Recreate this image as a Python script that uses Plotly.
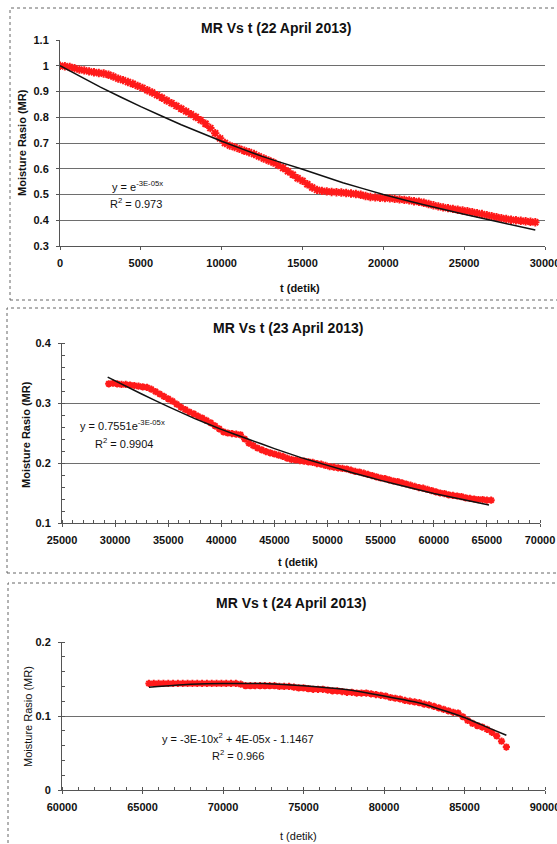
import plotly.graph_objects as go

W, H = 557, 844
FONT = "Liberation Sans, Arial, sans-serif"

# ---- 22 April 2013 : measured moisture ratio every 300 s, and trend line ----
T1_START, T1_STEP = 0, 300
MR1 = [1.000, 0.998, 0.995, 0.990, 0.985, 0.982, 0.978, 0.975, 0.972, 0.970,
       0.965, 0.958, 0.950, 0.944, 0.937, 0.930, 0.922, 0.914, 0.905, 0.896,
       0.886, 0.876, 0.865, 0.855, 0.844, 0.833, 0.823, 0.812, 0.801, 0.789,
       0.775, 0.758, 0.738, 0.718, 0.700, 0.690, 0.684, 0.677, 0.670, 0.664,
       0.657, 0.648, 0.640, 0.632, 0.624, 0.614, 0.603, 0.590, 0.577, 0.563,
       0.553, 0.540, 0.527, 0.518, 0.514, 0.512, 0.510, 0.509, 0.508, 0.506,
       0.504, 0.502, 0.499, 0.494, 0.490, 0.489, 0.487, 0.486, 0.485, 0.483,
       0.481, 0.479, 0.477, 0.474, 0.472, 0.468, 0.463, 0.458, 0.454, 0.450,
       0.447, 0.444, 0.441, 0.438, 0.435, 0.431, 0.427, 0.424, 0.420, 0.416,
       0.412, 0.408, 0.405, 0.402, 0.400, 0.398, 0.396, 0.394, 0.392]
FIT1_T = [0, 2500, 5000, 7500, 10000, 12500, 15000, 17500, 20000, 22500, 25000, 27500, 29400]
FIT1_MR = [1.000, 0.917, 0.841, 0.771, 0.707, 0.648, 0.598, 0.546, 0.500, 0.460, 0.423, 0.388, 0.362]

# ---- 23 April 2013 ----
T2_START, T2_STEP = 29400, 400
MR2 = [0.332, 0.333, 0.332, 0.331, 0.331, 0.330, 0.329, 0.328, 0.327, 0.326,
       0.323, 0.319, 0.315, 0.311, 0.307, 0.303, 0.298, 0.293, 0.289, 0.285,
       0.282, 0.278, 0.275, 0.271, 0.267, 0.262, 0.257, 0.252, 0.250, 0.249,
       0.248, 0.247, 0.240, 0.233, 0.229, 0.225, 0.222, 0.219, 0.217, 0.215,
       0.213, 0.211, 0.208, 0.206, 0.205, 0.204, 0.203, 0.202, 0.201, 0.199,
       0.198, 0.196, 0.194, 0.193, 0.192, 0.191, 0.190, 0.188, 0.186, 0.185,
       0.183, 0.181, 0.179, 0.177, 0.175, 0.174, 0.172, 0.170, 0.169, 0.167,
       0.165, 0.163, 0.161, 0.159, 0.158, 0.156, 0.154, 0.152, 0.150, 0.149,
       0.147, 0.146, 0.145, 0.144, 0.142, 0.141, 0.140, 0.139, 0.139, 0.138,
       0.138]
FIT2_T = [29300, 32500, 35000, 37500, 40000, 42500, 45000, 47500, 50000, 52500, 55000, 57500, 60000, 62500, 65200]
FIT2_MR = [0.343, 0.315, 0.294, 0.274, 0.256, 0.240, 0.224, 0.209, 0.196, 0.183, 0.171, 0.160, 0.149, 0.140, 0.130]

# ---- 24 April 2013 ----
T3_START, T3_STEP = 65400, 300
MR3 = [0.144, 0.144, 0.144, 0.144, 0.144, 0.144, 0.144, 0.144, 0.144, 0.144,
       0.144, 0.144, 0.144, 0.144, 0.144, 0.144, 0.144, 0.144, 0.144, 0.143,
       0.141, 0.141, 0.141, 0.141, 0.141, 0.141, 0.141, 0.140, 0.140, 0.140,
       0.139, 0.138, 0.138, 0.137, 0.136, 0.136, 0.136, 0.135, 0.134, 0.134,
       0.133, 0.132, 0.132, 0.131, 0.131, 0.131, 0.130, 0.129, 0.128, 0.127,
       0.125, 0.124, 0.123, 0.121, 0.120, 0.119, 0.118, 0.116, 0.115, 0.113,
       0.111, 0.109, 0.107, 0.105, 0.104, 0.099, 0.094, 0.090, 0.087, 0.085,
       0.082, 0.078, 0.073, 0.066, 0.058]
FIT3_T = [65400, 68000, 70000, 72500, 75000, 77500, 80000, 82500, 85000, 86500, 87600]
FIT3_MR = [0.139, 0.143, 0.144, 0.144, 0.141, 0.136, 0.127, 0.116, 0.098, 0.084, 0.074]

# ---- axis ticks ----
X1_TICKS = [0, 5000, 10000, 15000, 20000, 25000, 30000]
X2_TICKS = [25000, 30000, 35000, 40000, 45000, 50000, 55000, 60000, 65000, 70000]
X3_TICKS = [60000, 65000, 70000, 75000, 80000, 85000, 90000]
Y1_TICKS = [0.3, 0.4, 0.5, 0.6, 0.7, 0.8, 0.9, 1.0, 1.1]
Y1_TEXT = ["0.3", "0.4", "0.5", "0.6", "0.7", "0.8", "0.9", "1", "1.1"]
Y2_TICKS = [0.1, 0.2, 0.3, 0.4]
Y2_TEXT = ["0.1", "0.2", "0.3", "0.4"]
Y3_TICKS = [0.0, 0.1, 0.2]
Y3_TEXT = ["0", "0.1", "0.2"]

TITLES = ["MR Vs t (22 April 2013)", "MR Vs t (23 April 2013)", "MR Vs t (24 April 2013)"]
Y_TITLE = "Moisture Rasio (MR)"
X_TITLE = "t (detik)"
EQ = ["y = e<sup>-3E-05x</sup>", "y = 0.7551e<sup>-3E-05x</sup>",
      "y = -3E-10x<sup>2</sup> + 4E-05x - 1.1467"]
R2 = ["R<sup>2</sup> = 0.973", "R<sup>2</sup> = 0.9904", "R<sup>2</sup> = 0.966"]


def px(x):
    return x / W


def py(y):
    return 1 - y / H


def times(start, step, vals):
    return [start + step * i for i in range(len(vals))]


fig = go.Figure()

series = [
    (times(T1_START, T1_STEP, MR1), MR1, FIT1_T, FIT1_MR, "x", "y", 7),
    (times(T2_START, T2_STEP, MR2), MR2, FIT2_T, FIT2_MR, "x2", "y2", 6),
    (times(T3_START, T3_STEP, MR3), MR3, FIT3_T, FIT3_MR, "x3", "y3", 6),
]
for t, mr, ft, fm, xa, ya, ms in series:
    fig.add_trace(go.Scatter(
        x=t, y=mr, mode="markers", xaxis=xa, yaxis=ya, showlegend=False,
        marker=dict(symbol="asterisk-open", size=ms, color="#ff1a1a",
                    line=dict(color="#ff1a1a", width=2))))
    fig.add_trace(go.Scatter(
        x=ft, y=fm, mode="lines", xaxis=xa, yaxis=ya, showlegend=False,
        line=dict(color="#111111", width=1.5, shape="spline", smoothing=0.3)))

GRID = "#6e6e6e"
AXIS = "#555555"


def xaxis(dom, rng, ticks, anchor, minor=False):
    d = dict(domain=dom, range=rng, tickvals=ticks, ticktext=[str(v) for v in ticks],
             anchor=anchor, automargin=False, ticklabeloverflow="allow",
             showgrid=False, zeroline=False, showline=True, linecolor=AXIS, linewidth=1,
             ticks="outside", ticklen=3, tickcolor=AXIS,
             tickfont=dict(family=FONT, size=11, color="#111", weight="bold"),
             ticklabelstandoff=4)
    if minor:
        d["minor"] = dict(dtick=1000, ticks="inside", ticklen=3, tickcolor=AXIS)
    return d


def yaxis(dom, rng, ticks, text, anchor, minor=None):
    d = dict(domain=dom, range=rng, tickvals=ticks, ticktext=text, anchor=anchor,
             automargin=False, ticklabeloverflow="allow",
             showgrid=True, gridcolor=GRID, gridwidth=1, zeroline=False,
             showline=True, linecolor=AXIS, linewidth=1,
             ticks="outside", ticklen=3, tickcolor=AXIS,
             tickfont=dict(family=FONT, size=11, color="#111", weight="bold"),
             ticklabelstandoff=5)
    if minor:
        d["minor"] = dict(dtick=minor, ticks="inside", ticklen=3, tickcolor=AXIS)
    return d


fig.update_layout(
    width=W, height=H, margin=dict(l=0, r=0, t=0, b=0, autoexpand=False),
    paper_bgcolor="white", plot_bgcolor="white",
    xaxis=xaxis([px(60), px(545)], [0, 30000], X1_TICKS, "y"),
    yaxis=yaxis([py(246), py(40)], [0.3, 1.1], Y1_TICKS, Y1_TEXT, "x"),
    xaxis2=xaxis([px(62), px(540)], [25000, 70000], X2_TICKS, "y2", minor=True),
    yaxis2=yaxis([py(523), py(343)], [0.1, 0.4], Y2_TICKS, Y2_TEXT, "x2", minor=0.02),
    xaxis3=xaxis([px(62), px(545)], [60000, 90000], X3_TICKS, "y3", minor=True),
    yaxis3=yaxis([py(790), py(642)], [0.0, 0.2], Y3_TICKS, Y3_TEXT, "x3", minor=0.02),
)

# panel frames
for x0, y0, y1 in [(10, 8, 300), (7, 308, 573), (8, 583, 850)]:
    fig.add_shape(type="rect", xref="paper", yref="paper",
                  x0=px(x0), x1=px(W + 5), y0=py(y1), y1=py(y0),
                  line=dict(color="#666666", width=1, dash="dot"))

ann = []


def note(x, y, text, size=11, weight="normal", xanchor="center", angle=0):
    ann.append(dict(x=px(x), y=py(y), xref="paper", yref="paper", text=text,
                    showarrow=False, xanchor=xanchor, yanchor="middle", textangle=angle,
                    font=dict(family=FONT, size=size, color="#111", weight=weight)))


# chart titles
for (x, y), txt in zip([(276, 28), (288, 328), (291, 603)], TITLES):
    note(x, y, txt, size=14, weight="bold")
# axis titles
for (x, y), wt in zip([(22, 143), (26, 435), (28, 717)], ["bold", "bold", "normal"]):
    note(x, y, Y_TITLE, weight=wt, angle=-90)
for (x, y), wt in zip([(300, 288), (298, 562), (298, 836)], ["bold", "bold", "normal"]):
    note(x, y, X_TITLE, weight=wt)
# trend equations
for (x, y), txt in zip([(110, 186), (78, 425), (160, 738)], EQ):
    note(x, y, txt, xanchor="left")
for (x, y), txt in zip([(108, 203), (93, 443), (210, 755)], R2):
    note(x, y, txt, xanchor="left")
fig.update_layout(annotations=ann)

fig.write_html("out.html")
